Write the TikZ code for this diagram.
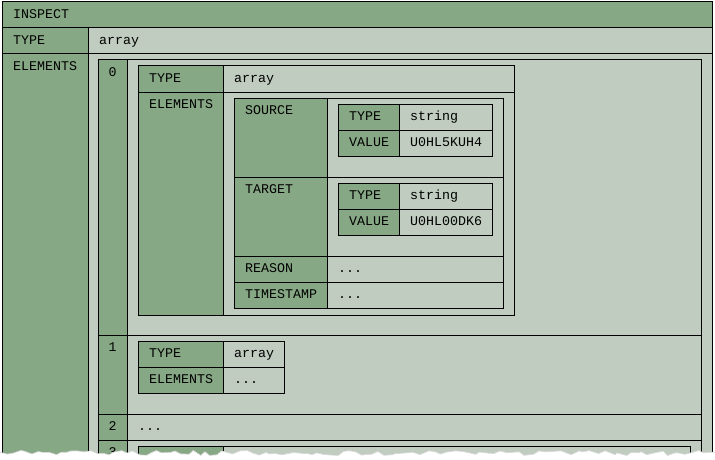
\documentclass[tikz,border=0pt]{standalone}
\usepackage{fontspec}
\setmonofont{Liberation Mono}
\usetikzlibrary{decorations.pathmorphing}
\definecolor{keyfill}{HTML}{87A885}
\definecolor{valfill}{HTML}{BFCCBF}

\tikzset{
  keycell/.style={fill=keyfill, draw=black, line width=1pt},
  valcell/.style={fill=valfill, draw=black, line width=1pt},
  celltext/.style={anchor=base west, inner sep=0pt, text=black,
    font=\ttfamily\fontsize{13.3}{16}\selectfont},
  idxtext/.style={celltext, anchor=base},
  tear/.style={decoration={random steps, segment length=6pt, amplitude=2.5pt}}
}

% key / value cells given by corners (x1,y1) (x2,y2)
\newcommand\kcell[4]{\filldraw[keycell] (#1,#2) rectangle (#3,#4);}
\newcommand\vcell[4]{\filldraw[valcell] (#1,#2) rectangle (#3,#4);}
% text placed inside the cell whose top-left corner is (x,y)
\newcommand\celllabel[4]{\node[celltext] (#1) at ({#2+11},{#3+16.5}) {#4};}
\newcommand\idxlabel[3]{\node[idxtext] (#1) at (112.5,{#2+16.5}) {#3};}

\begin{document}
\begin{tikzpicture}[x=1pt, y=-1pt]
  \useasboundingbox (0,0) rectangle (715,460);
  \clip (0,0) rectangle (715,460);
  \fill[white] (0,0) rectangle (715,460);

  % top level
  \kcell{2}{2}{712}{28}
  \kcell{2}{28}{88}{54}   \vcell{88}{28}{712}{54}
  \kcell{2}{54}{88}{475}  \vcell{88}{54}{712}{475}
  \celllabel{inspect}{2}{2}{INSPECT}
  \celllabel{typeA}{2}{28}{TYPE}
  \celllabel{typeAv}{88}{28}{array}
  \celllabel{elemA}{2}{54}{ELEMENTS}

  % element list
  \kcell{98}{60}{127}{335}   \vcell{127}{60}{701}{335}
  \kcell{98}{335}{127}{414}  \vcell{127}{335}{701}{414}
  \kcell{98}{414}{127}{440}  \vcell{127}{414}{701}{440}
  \kcell{98}{440}{127}{475}  \vcell{127}{440}{701}{475}
  \idxlabel{i0}{60}{0}
  \idxlabel{i1}{335}{1}
  \idxlabel{i2}{414}{2}
  \idxlabel{i3}{440}{3}
  \celllabel{more2}{127}{414}{...}

  % element 0
  \kcell{138}{66}{223}{92}   \vcell{223}{66}{514}{92}
  \kcell{138}{92}{223}{315}  \vcell{223}{92}{514}{315}
  \celllabel{typeB}{138}{66}{TYPE}
  \celllabel{typeBv}{223}{66}{array}
  \celllabel{elemB}{138}{92}{ELEMENTS}

  \kcell{234}{98}{327}{177}   \vcell{327}{98}{503}{177}
  \kcell{234}{177}{327}{256}  \vcell{327}{177}{503}{256}
  \kcell{234}{256}{327}{282}  \vcell{327}{256}{503}{282}
  \kcell{234}{282}{327}{308}  \vcell{327}{282}{503}{308}
  \celllabel{source}{234}{98}{SOURCE}
  \celllabel{target}{234}{177}{TARGET}
  \celllabel{reason}{234}{256}{REASON}
  \celllabel{reasonv}{327}{256}{...}
  \celllabel{tstamp}{234}{282}{TIMESTAMP}
  \celllabel{tstampv}{327}{282}{...}

  % source value
  \kcell{338}{104}{399}{130}  \vcell{399}{104}{492}{130}
  \kcell{338}{130}{399}{156}  \vcell{399}{130}{492}{156}
  \celllabel{stype}{338}{104}{TYPE}
  \celllabel{stypev}{399}{104}{string}
  \celllabel{sval}{338}{130}{VALUE}
  \celllabel{svalv}{399}{130}{U0HL5KUH4}

  % target value
  \kcell{338}{183}{399}{209}  \vcell{399}{183}{492}{209}
  \kcell{338}{209}{399}{235}  \vcell{399}{209}{492}{235}
  \celllabel{ttype}{338}{183}{TYPE}
  \celllabel{ttypev}{399}{183}{string}
  \celllabel{tval}{338}{209}{VALUE}
  \celllabel{tvalv}{399}{209}{U0HL00DK6}

  % element 1
  \kcell{138}{341}{223}{367}  \vcell{223}{341}{284}{367}
  \kcell{138}{367}{223}{393}  \vcell{223}{367}{284}{393}
  \celllabel{typeC}{138}{341}{TYPE}
  \celllabel{typeCv}{223}{341}{array}
  \celllabel{elemC}{138}{367}{ELEMENTS}
  \celllabel{elemCv}{223}{367}{...}

  % element 3 (cut off)
  \kcell{138}{446}{223}{475}  \vcell{223}{446}{690}{475}

  % torn lower edge
  \pgfmathsetseed{7}
  \fill[white] decorate[tear]{(-5,453) -- (720,453)} -- (720,470) -- (-5,470) -- cycle;
  \pgfmathsetseed{7}
  \draw[black!15, line width=0.7pt] decorate[tear]{(-5,453) -- (720,453)};
\end{tikzpicture}
\end{document}
